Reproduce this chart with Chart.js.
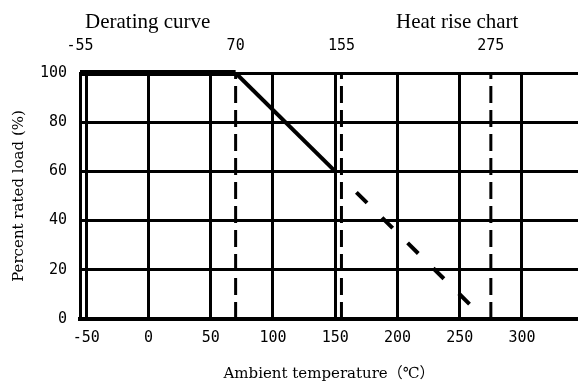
<!DOCTYPE html>
<html>
<head>
<meta charset="utf-8">
<script src="https://cdn.jsdelivr.net/npm/chart.js@4"></script>
<style>
  html, body { margin: 0; padding: 0; background: #fff; }
  #wrap { width: 578px; height: 385px; }
</style>
</head>
<body>
<div id="wrap"><canvas id="derating-chart"></canvas></div>
<script>
// values
const xTicks = [-50, 0, 50, 100, 150, 200, 250, 300];
const topTicks = [-55, 70, 155, 275];
const yTicks = [0, 20, 40, 60, 80, 100];

const flatTemp = [-55, 70];
const flatLoad = [100, 100];
const slopeTemp = [70, 150];
const slopeLoad = [100, 60];
const heatTemp = [155, 261];
const heatLoad = [57.5, 4.5];
const markerTemps = [70, 155, 275];
const markerLoad = [0, 100];

const pts = (xs, ys) => xs.map((x, i) => ({ x: x, y: ys[i] }));

const tickFont = { family: '"DejaVu Sans Mono", monospace', size: 15 };
const titleFont = { family: '"DejaVu Serif", "Noto Sans CJK SC", serif', size: 15 };

// the two headings above the plot
const headings = {
  id: 'headings',
  afterDraw(chart) {
    const ctx = chart.ctx;
    ctx.save();
    ctx.font = '21px "Liberation Serif", serif';
    ctx.fillStyle = '#000';
    ctx.textBaseline = 'alphabetic';
    ctx.fillText('Derating curve', 85, 28);
    ctx.fillText('Heat rise chart', 396, 28);
    ctx.restore();
  }
};

const markers = markerTemps.map(t => ({
  data: pts([t, t], markerLoad),
  borderColor: '#000',
  borderWidth: 3,
  borderDash: [17, 7],
  pointRadius: 0
}));

new Chart(document.getElementById('derating-chart'), {
  type: 'line',
  data: {
    datasets: [
      ...markers,
      { data: pts(slopeTemp, slopeLoad), borderColor: '#000', borderWidth: 4, pointRadius: 0 },
      { data: pts(heatTemp, heatLoad), borderColor: '#000', borderWidth: 4, pointRadius: 0,
        borderDash: [15, 21], borderDashOffset: 15 },
      { data: pts(flatTemp, flatLoad), borderColor: '#000', borderWidth: 6, pointRadius: 0,
        borderCapStyle: 'butt', clip: 8 }
    ]
  },
  options: {
    animation: false,
    responsive: true,
    maintainAspectRatio: false,
    layout: { padding: { top: 33, left: 0, right: 0, bottom: 0 } },
    plugins: { legend: { display: false }, tooltip: { enabled: false } },
    scales: {
      x: {
        type: 'linear',
        position: 'bottom',
        min: -55,
        max: 345,
        afterBuildTicks: s => { s.ticks = xTicks.map(v => ({ value: v })); },
        afterFit: s => { s.height = 66; },
        grid: { color: '#000', lineWidth: 3, drawTicks: false },
        border: { color: '#000', width: 4 },
        ticks: { font: tickFont, color: '#000', padding: 10, maxRotation: 0, autoSkip: false },
        title: { display: true, text: 'Ambient temperature（℃）', font: titleFont, color: '#000', padding: { top: 0, bottom: 2 } }
      },
      x2: {
        type: 'linear',
        position: 'top',
        min: -55,
        max: 345,
        afterBuildTicks: s => { s.ticks = topTicks.map(v => ({ value: v })); },
        afterFit: s => { s.height = 40; },
        grid: { display: false, drawTicks: false },
        border: { display: false },
        ticks: { font: tickFont, color: '#000', padding: 18, maxRotation: 0, autoSkip: false }
      },
      y: {
        min: 0,
        max: 100,
        afterBuildTicks: s => { s.ticks = yTicks.map(v => ({ value: v })); },
        afterFit: s => { s.width = 80; },
        grid: { color: '#000', lineWidth: 3, drawTicks: false },
        border: { color: '#000', width: 3 },
        ticks: { font: tickFont, color: '#000', padding: 13 },
        title: { display: true, text: 'Percent rated load (%)', font: { family: '"DejaVu Serif", serif', size: 15 }, color: '#000', padding: { top: 10, bottom: 0 } }
      }
    }
  },
  plugins: [headings]
});
</script>
</body>
</html>
